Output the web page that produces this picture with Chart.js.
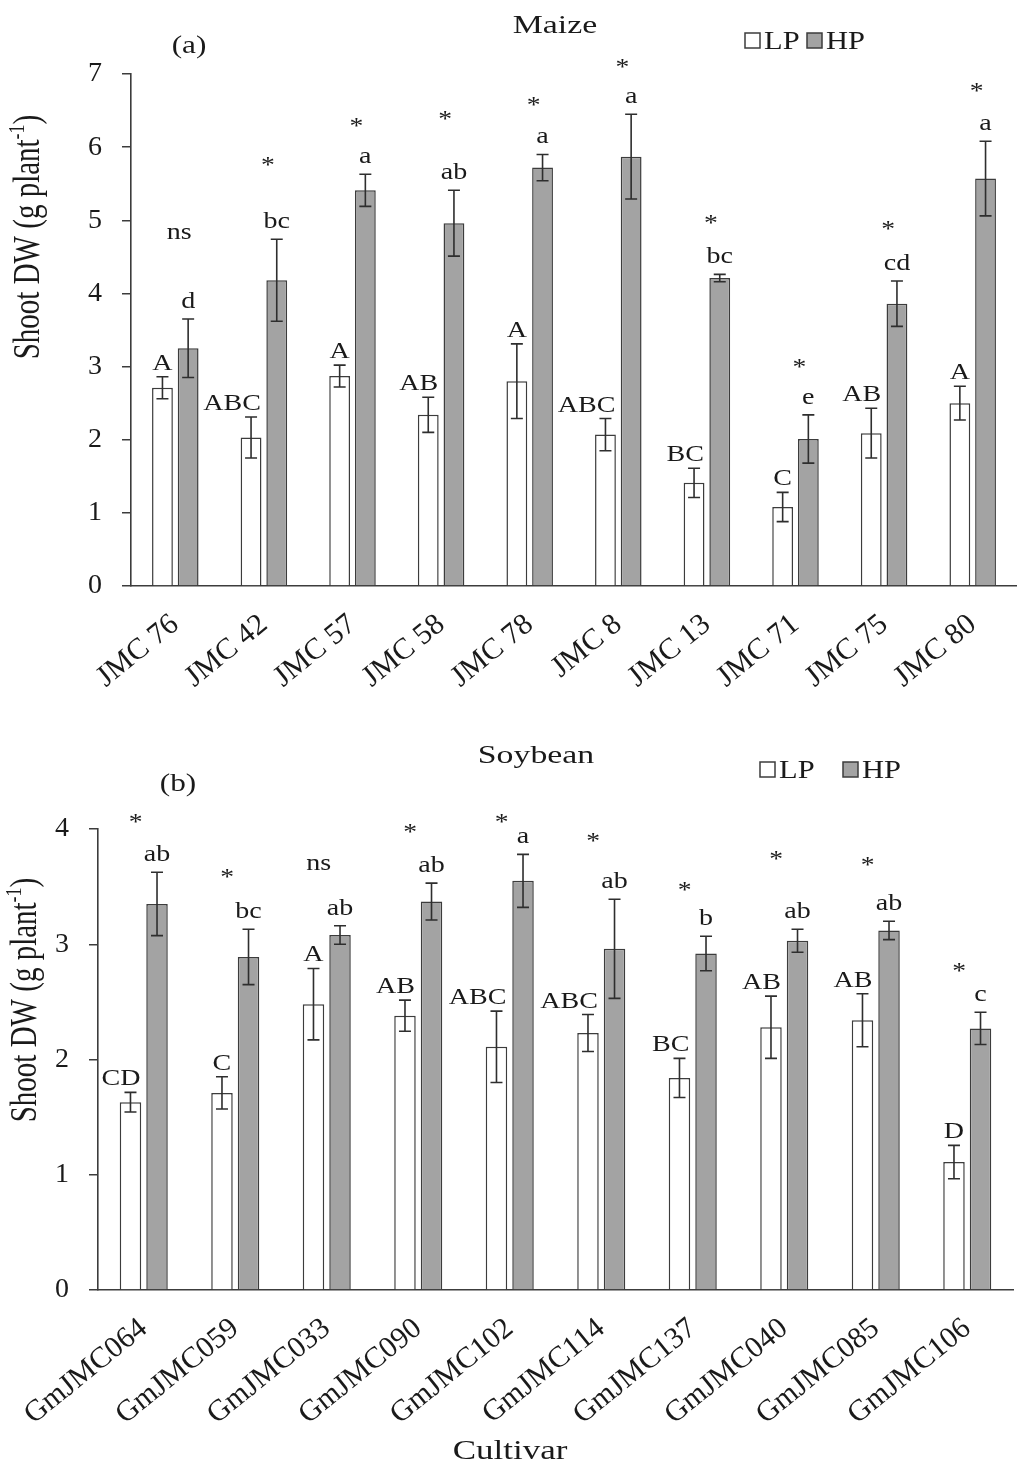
<!DOCTYPE html>
<html>
<head>
<meta charset="utf-8">
<script src="https://cdn.jsdelivr.net/npm/chart.js@4.4.1/dist/chart.umd.min.js"></script>
<style>
  body { margin: 0; background: #fff; }
  canvas { display: block; }
</style>
</head>
<body>
<canvas id="maize" width="1017" height="720"></canvas>
<canvas id="soybean" width="1017" height="744"></canvas>
<script>
// ---- Maize (a) ----
const maizeCultivars = ["JMC 76", "JMC 42", "JMC 57", "JMC 58", "JMC 78", "JMC 8", "JMC 13", "JMC 71", "JMC 75", "JMC 80"];
const maizeLP = [2.71, 2.03, 2.87, 2.34, 2.80, 2.07, 1.41, 1.08, 2.09, 2.50];
const maizeLPse = [0.15, 0.28, 0.15, 0.24, 0.51, 0.22, 0.20, 0.20, 0.34, 0.23];
const maizeHP = [3.25, 4.18, 5.41, 4.96, 5.72, 5.87, 4.21, 2.01, 3.86, 5.57];
const maizeHPse = [0.40, 0.56, 0.22, 0.45, 0.18, 0.58, 0.05, 0.33, 0.31, 0.51];
const maizeLPgroups = ["A", "ABC", "A", "AB", "A", "ABC", "BC", "C", "AB", "A"];
const maizeHPgroups = ["d", "bc", "a", "ab", "a", "a", "bc", "e", "cd", "a"];
const maizeSig = ["ns", "*", "*", "*", "*", "*", "*", "*", "*", "*"];
const maizeSigAt = [4.81, 5.82, 6.36, 6.45, 6.64, 7.17, 5.03, 3.06, 4.95, 6.83];
const maizeTicks = [0, 1, 2, 3, 4, 5, 6, 7];

// ---- Soybean (b) ----
const soyCultivars = ["GmJMC064", "GmJMC059", "GmJMC033", "GmJMC090", "GmJMC102", "GmJMC114", "GmJMC137", "GmJMC040", "GmJMC085", "GmJMC106"];
const soyLP = [1.63, 1.71, 2.48, 2.38, 2.11, 2.23, 1.84, 2.28, 2.34, 1.11];
const soyLPse = [0.085, 0.14, 0.31, 0.135, 0.31, 0.16, 0.17, 0.27, 0.23, 0.145];
const soyHP = [3.35, 2.89, 3.08, 3.37, 3.55, 2.96, 2.92, 3.03, 3.12, 2.27];
const soyHPse = [0.275, 0.24, 0.08, 0.16, 0.23, 0.43, 0.15, 0.10, 0.08, 0.14];
const soyLPgroups = ["CD", "C", "A", "AB", "ABC", "ABC", "BC", "AB", "AB", "D"];
const soyHPgroups = ["ab", "bc", "ab", "ab", "a", "ab", "b", "ab", "ab", "c"];
const soySig = ["*", "*", "ns", "*", "*", "*", "*", "*", "*", "*"];
const soySigAt = [4.10, 3.63, 3.69, 4.02, 4.10, 3.94, 3.51, 3.78, 3.73, 2.81];
const soyTicks = [0, 1, 2, 3, 4];

const SERIF = '"Liberation Serif", "Times New Roman", serif';
const INK = "#1a1a1a";
const EDGE = "#3c3c3c";
const HP_FILL = "#a3a3a3";

// horizontally stretched text, the figure is wider than it is tall
function wideText(ctx, text, x, y, size, align, sx) {
    ctx.save();
    ctx.font = size + "px " + SERIF;
    ctx.fillStyle = INK;
    ctx.textAlign = align;
    ctx.textBaseline = "alphabetic";
    ctx.translate(x, y);
    ctx.scale(sx, 1);
    ctx.fillText(text, 0, 0);
    ctx.restore();
}

function yTitle(ctx, bx, cy, size) {
    const main = "Shoot DW (g plant", sup = "-1", end = ")";
    const small = Math.round(size * 0.62);
    ctx.save();
    ctx.fillStyle = INK;
    ctx.textBaseline = "alphabetic";
    ctx.textAlign = "left";
    ctx.font = size + "px " + SERIF;
    const w1 = ctx.measureText(main).width;
    const w3 = ctx.measureText(end).width;
    ctx.font = small + "px " + SERIF;
    const w2 = ctx.measureText(sup).width;
    const total = w1 + w2 + w3;
    ctx.translate(bx, cy);
    ctx.rotate(-Math.PI / 2);
    ctx.scale(1, 1.28);
    let x = -total / 2;
    ctx.font = size + "px " + SERIF;
    ctx.fillText(main, x, 0);
    x += w1;
    ctx.font = small + "px " + SERIF;
    ctx.fillText(sup, x, -size * 0.4);
    x += w2;
    ctx.font = size + "px " + SERIF;
    ctx.fillText(end, x, 0);
    ctx.restore();
}

const errorBars = {
    id: "errorBars",
    afterDatasetsDraw(chart) {
        const ctx = chart.ctx;
        const y = chart.scales.y;
        ctx.save();
        ctx.strokeStyle = "#2e2e2e";
        ctx.lineWidth = 1.6;
        chart.data.datasets.forEach((ds, i) => {
            chart.getDatasetMeta(i).data.forEach((bar, j) => {
                const v = ds.data[j], e = ds.errors[j];
                const top = y.getPixelForValue(v + e);
                const bot = y.getPixelForValue(v - e);
                const cap = 6;
                ctx.beginPath();
                ctx.moveTo(bar.x, top); ctx.lineTo(bar.x, bot);
                ctx.moveTo(bar.x - cap, top); ctx.lineTo(bar.x + cap, top);
                ctx.moveTo(bar.x - cap, bot); ctx.lineTo(bar.x + cap, bot);
                ctx.stroke();
            });
        });
        ctx.restore();
    }
};

function makeDecor(cfg) {
    return {
        id: "decor",
        afterDraw(chart) {
            const ctx = chart.ctx;
            const xs = chart.scales.x, y = chart.scales.y;

            // letter groups above each bar's error bar
            chart.data.datasets.forEach((ds, i) => {
                const gap = i === 0 ? 7 : 11;
                chart.getDatasetMeta(i).data.forEach((bar, j) => {
                    const top = y.getPixelForValue(ds.data[j] + ds.errors[j]);
                    const g = ds.groups[j];
                    if (i === 0 && g.length > 1) {
                        // longer capital groups sit a little to the left, ending near the bar centre
                        wideText(ctx, g, bar.x + 10, top - gap, 23, "right", 1.22);
                    } else {
                        wideText(ctx, g, bar.x, top - gap, 23, "center", 1.22);
                    }
                });
            });

            // significance marks
            cfg.sig.forEach((s, j) => {
                const px = xs.getPixelForValue(j) + cfg.sigDx;
                const py = y.getPixelForValue(cfg.sigAt[j]);
                if (s === "*") wideText(ctx, s, px, py + 12, 23, "center", 1.2);
                else wideText(ctx, s, px, py + 5, 23, "center", 1.22);
            });

            // title, panel tag, legend
            wideText(ctx, cfg.title, cfg.titleX, cfg.titleY, 26, "center", 1.3);
            wideText(ctx, cfg.tag, cfg.tagX, cfg.tagY, 25, "center", 1.25);

            const ds = chart.data.datasets;
            let lx = cfg.legendX;
            const ly = cfg.legendY;
            ds.forEach((d) => {
                ctx.save();
                ctx.fillStyle = d.backgroundColor;
                ctx.strokeStyle = EDGE;
                ctx.lineWidth = 1.5;
                ctx.fillRect(lx, ly - 15, 15, 15);
                ctx.strokeRect(lx, ly - 15, 15, 15);
                ctx.restore();
                wideText(ctx, d.label, lx + 19, ly + 1, 25, "left", 1.22);
                lx += cfg.legendStep;
            });

            yTitle(ctx, cfg.yTitleX, cfg.yTitleY, 29);
            if (cfg.xTitle) wideText(ctx, cfg.xTitle, cfg.xTitleX, cfg.xTitleY, 28, "center", 1.25);
        }
    };
}

function buildChart(id, labels, lp, lpSe, lpG, hp, hpSe, hpG, yMax, ticks, area, decor) {
    return new Chart(document.getElementById(id), {
        type: "bar",
        data: {
            labels: labels,
            datasets: [
                {
                    label: "LP", data: lp, errors: lpSe, groups: lpG,
                    backgroundColor: "#ffffff", borderColor: EDGE, borderWidth: 1.5
                },
                {
                    label: "HP", data: hp, errors: hpSe, groups: hpG,
                    backgroundColor: HP_FILL, borderColor: EDGE, borderWidth: 1.5
                }
            ]
        },
        options: {
            responsive: false,
            animation: false,
            categoryPercentage: 0.58,
            barPercentage: 0.81,
            layout: { padding: { top: area.top, right: area.right, left: 0, bottom: 0 } },
            plugins: {
                legend: { display: false },
                title: { display: false },
                tooltip: { enabled: false }
            },
            scales: {
                x: {
                    grid: { display: false },
                    border: { display: true, color: EDGE, width: 1.6 },
                    ticks: {
                        autoSkip: false,
                        minRotation: 39,
                        maxRotation: 39,
                        padding: 13,
                        color: INK,
                        font: { family: SERIF, size: 30 }
                    },
                    afterFit(s) {
                        s.height = area.xHeight;
                        s.paddingLeft = 0;
                        s.paddingRight = 0;
                    }
                },
                y: {
                    min: 0,
                    max: yMax,
                    afterBuildTicks(s) {
                        s.ticks = ticks.map(v => ({ value: v }));
                    },
                    grid: { display: true, drawOnChartArea: false, tickLength: 9, color: EDGE, lineWidth: 1.5 },
                    border: { display: true, color: EDGE, width: 1.6 },
                    ticks: { padding: 20, color: INK, font: { family: SERIF, size: 28 } },
                    afterFit(s) {
                        s.width = area.left;
                    }
                }
            }
        },
        plugins: [errorBars, makeDecor(decor)]
    });
}

buildChart("maize", maizeCultivars, maizeLP, maizeLPse, maizeLPgroups, maizeHP, maizeHPse, maizeHPgroups, 7, maizeTicks,
    { top: 74, right: 0, left: 131, xHeight: 134 },
    {
        sig: maizeSig, sigAt: maizeSigAt, sigDx: 4,
        title: "Maize", titleX: 555, titleY: 33,
        tag: "(a)", tagX: 189, tagY: 53,
        legendX: 745, legendY: 48, legendStep: 62,
        yTitleX: 39, yTitleY: 237
    });

buildChart("soybean", soyCultivars, soyLP, soyLPse, soyLPgroups, soyHP, soyHPse, soyHPgroups, 4, soyTicks,
    { top: 109, right: 4, left: 98, xHeight: 174 },
    {
        sig: soySig, sigAt: soySigAt, sigDx: -8,
        title: "Soybean", titleX: 536, titleY: 43,
        tag: "(b)", tagX: 178, tagY: 71,
        legendX: 760, legendY: 57, legendStep: 83,
        yTitleX: 36, yTitleY: 280,
        xTitle: "Cultivar", xTitleX: 510, xTitleY: 739
    });
</script>
</body>
</html>
